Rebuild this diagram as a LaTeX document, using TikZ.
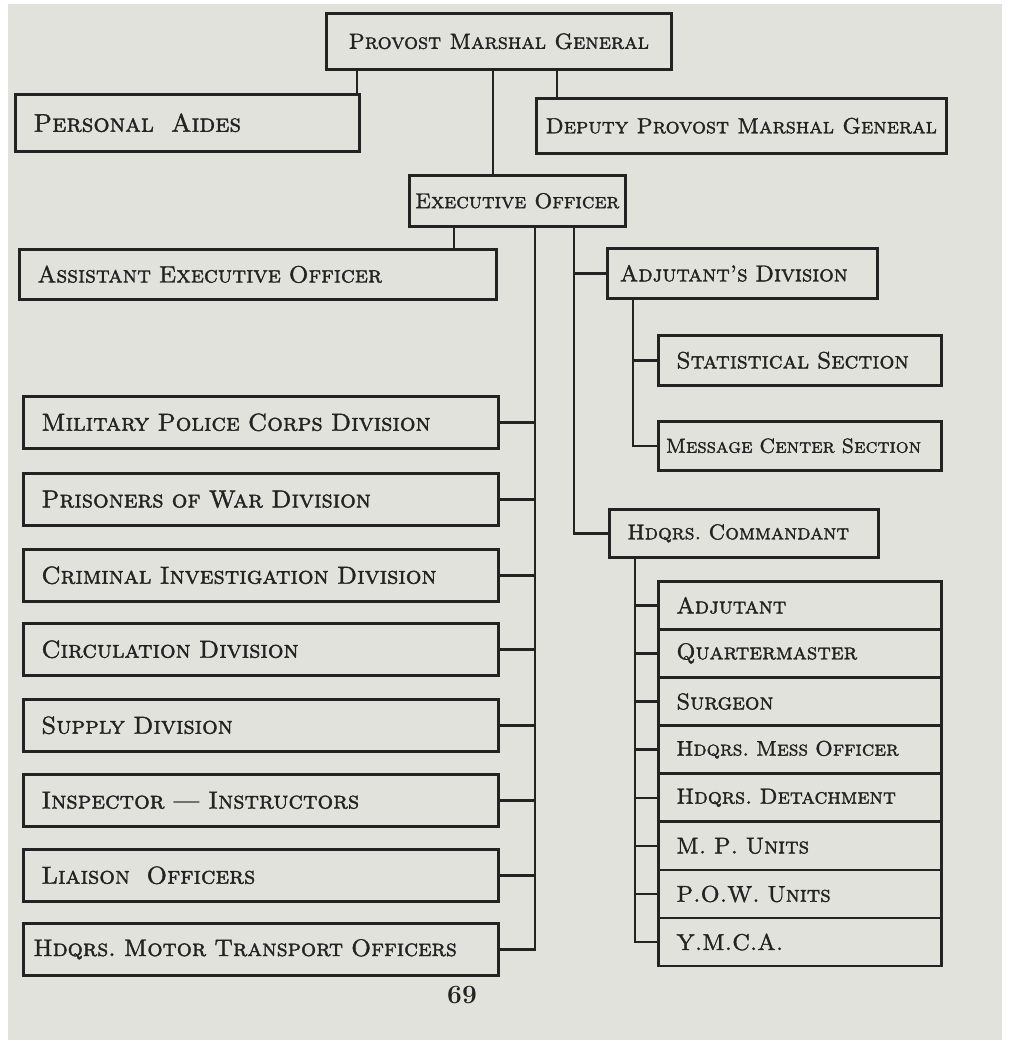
\documentclass[tikz,border=0pt]{standalone}
\usepackage{fontspec}
\newfontfamily\lettering{lmromancaps10-regular.otf}[Ligatures=TeX, FakeBold=1.6]
\usetikzlibrary{positioning}
\definecolor{page}{RGB}{226,226,221}
\definecolor{ink}{RGB}{35,35,35}
\begin{document}
\frenchspacing
\begin{tikzpicture}[x=0.02cm, y=-0.02cm,
        letter size/.style={font=\lettering\fontsize{#1}{#1}\selectfont},
        unit box/.style={draw=ink, line width=1.5pt, anchor=north west, text=ink,
            letter size=12.5, inner ysep=2pt},
        centre box/.style={unit box, align=center},
        left box/.style={unit box, align=left, inner xsep=0.36cm, text width=#1},
        link/.style={draw=ink, line width=1.4pt},
    ]
        % Page
        \fill[white] (0,0) rectangle (1010,1047);
        \fill[page] (8,4) rectangle (1002,1040);
        \useasboundingbox (0,0) rectangle (1010,1047);

        % Top level
        \node[centre box, minimum width=6.9cm, minimum height=1.12cm] (pmg) at (325,12) {Provost Marshal General};
        \node[left box=6.16cm, minimum height=1.14cm, letter size=14.5] (aides) at (14,93) {Personal\ \ Aides};
        \node[centre box, minimum width=8.2cm, minimum height=1.1cm] (deputy) at (535,97) {Deputy Provost Marshal General};
        \node[centre box, minimum width=4.32cm, minimum height=1.02cm, letter size=12.2] (exec) at (408,174) {Executive Officer};

        % Staff under the executive officer
        \node[left box=8.82cm, minimum height=1cm, letter size=13.4] (asst) at (18,248) {Assistant Executive Officer};
        \node[left box=4.9cm, inner xsep=0.25cm, minimum height=1cm, letter size=13] (adjdiv) at (606,247) {Adjutant's Division};
        \node[left box=4.94cm, minimum height=1cm, letter size=13.4] (stat) at (657,334) {Statistical Section};
        \node[left box=5.36cm, inner xsep=0.15cm, minimum height=0.98cm, letter size=11.6] (msg) at (657,420) {Message Center Section};
        \node[left box=4.66cm, minimum height=0.96cm, letter size=12.2] (cmdt) at (608,508) {Hdqrs. Commandant};

        % Divisions
        \node[left box=8.78cm, minimum height=1.04cm, letter size=14] (mpc) at (22,395) {Military Police Corps Division};
        \node[left box=8.78cm, minimum height=1.04cm, letter size=14] (pow) at (22,472) {Prisoners of War Division};
        \node[left box=8.78cm, minimum height=1.04cm, letter size=14] (cid) at (22,548) {Criminal Investigation Division};
        \node[left box=8.78cm, minimum height=1.04cm, letter size=14] (circ) at (22,622) {Circulation Division};
        \node[left box=8.78cm, minimum height=1.04cm, letter size=14] (supply) at (22,698) {Supply Division};
        \node[left box=8.78cm, minimum height=1.04cm, letter size=14] (insp) at (22,773) {Inspector --- Instructors};
        \node[left box=8.78cm, minimum height=1.04cm, letter size=14] (liaison) at (22,848) {Liaison\ \ Officers};
        \node[left box=9.1cm, inner xsep=0.2cm, minimum height=1.04cm, letter size=13.6] (motor) at (22,922) {Hdqrs. Motor Transport Officers};

        % Headquarters units
        \node[left box=4.94cm, minimum height=0.962cm, letter size=13] (adj) at (657,580) {Adjutant};
        \node[left box=4.94cm, minimum height=0.962cm, letter size=13] (qm) at (657,628.1) {Quartermaster};
        \node[left box=4.94cm, minimum height=0.962cm, letter size=13] (surgeon) at (657,676.2) {Surgeon};
        \node[left box=4.94cm, minimum height=0.962cm, letter size=12] (mess) at (657,724.3) {Hdqrs. Mess Officer};
        \node[left box=4.94cm, minimum height=0.962cm, letter size=12.5] (det) at (657,772.4) {Hdqrs. Detachment};
        \node[left box=4.94cm, minimum height=0.962cm, letter size=13] (mpu) at (657,820.5) {M. P. Units};
        \node[left box=4.94cm, minimum height=0.962cm, letter size=13] (pwu) at (657,868.6) {P.O.W. Units};
        \node[left box=4.94cm, minimum height=0.962cm, letter size=13] (ymca) at (657,916.7) {Y.M.C.A.};

        % Page number
        \node[text=ink, font=\bfseries\fontsize{15}{17}\selectfont] (folio) at (462,995) {69};

        % Line positions
        \coordinate (aidesx) at (357,0);
        \coordinate (execx) at (493,0);
        \coordinate (deputyx) at (557,0);
        \coordinate (asstx) at (454,0);
        \coordinate (divx) at (535,0);
        \coordinate (staffx) at (574,0);
        \coordinate (adjx) at (633,0);
        \coordinate (hqx) at (635,0);

        % Links from the top
        \draw[link] (pmg.south -| aidesx) -- (aides.north -| aidesx);
        \draw[link] (pmg.south -| execx) -- (exec.north -| execx);
        \draw[link] (pmg.south -| deputyx) -- (deputy.north -| deputyx);
        \draw[link] (exec.south -| asstx) -- (asst.north -| asstx);

        % Division trunk
        \draw[link] (exec.south -| divx) -- (motor.east -| divx) -- (motor.east);
        \draw[link] (mpc.east) -- (mpc.east -| divx);
        \draw[link] (pow.east) -- (pow.east -| divx);
        \draw[link] (cid.east) -- (cid.east -| divx);
        \draw[link] (circ.east) -- (circ.east -| divx);
        \draw[link] (supply.east) -- (supply.east -| divx);
        \draw[link] (insp.east) -- (insp.east -| divx);
        \draw[link] (liaison.east) -- (liaison.east -| divx);

        % Staff trunk
        \draw[link] (exec.south -| staffx) |- (cmdt.west);
        \draw[link] (adjdiv.west) -- (adjdiv.west -| staffx);
        \draw[link] (adjdiv.south -| adjx) |- (msg.west);
        \draw[link] (stat.west) -- (stat.west -| adjx);

        % Headquarters trunk
        \draw[link] (cmdt.south -| hqx) |- (ymca.west);
        \draw[link] (adj.west) -- (adj.west -| hqx);
        \draw[link] (qm.west) -- (qm.west -| hqx);
        \draw[link] (surgeon.west) -- (surgeon.west -| hqx);
        \draw[link] (mess.west) -- (mess.west -| hqx);
        \draw[link] (det.west) -- (det.west -| hqx);
        \draw[link] (mpu.west) -- (mpu.west -| hqx);
        \draw[link] (pwu.west) -- (pwu.west -| hqx);
    \end{tikzpicture}
\end{document}
